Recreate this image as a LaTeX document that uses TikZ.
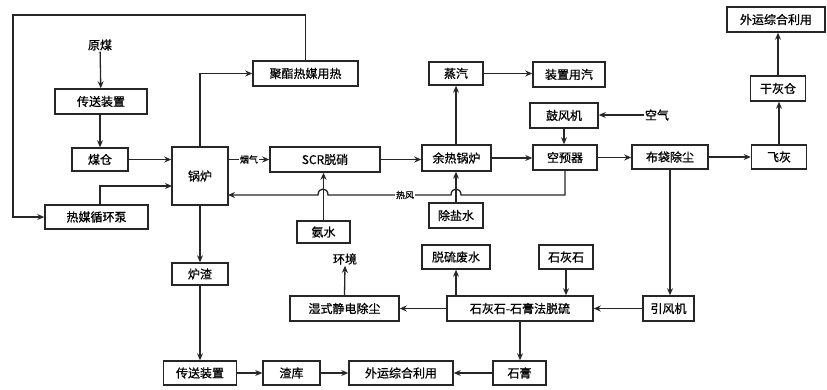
\documentclass[tikz,border=0pt]{standalone}
\usepackage{fontspec}
\newfontfamily\cjk[FakeBold=0.8]{Noto Sans CJK SC}
\usetikzlibrary{arrows.meta,calc}
\begin{document}
\begin{tikzpicture}[x=1pt,y=-1pt,
  font=\cjk\fontsize{12}{12}\selectfont,
  box/.style={draw=black!85,line width=1.5pt,inner sep=0pt,align=center},
  lbl/.style={inner sep=1pt},
  conn/.style={draw=black!85,line width=1.3pt},
  arr/.style={conn,-{Stealth[length=7pt,width=6pt]}},
  onl/.style={fill=white,inner sep=1pt,font=\cjk\fontsize{9}{9}\selectfont}]
\useasboundingbox (0,0) rectangle (827,389);
% nodes
\node[lbl] (ym) at (100,45) {原煤};
\node[box,minimum width=92,minimum height=25] (cs1) at (101,101.5) {传送装置};
\node[box,minimum width=56,minimum height=23] (mc) at (100,159.5) {煤仓};
\node[box,minimum width=56,minimum height=58] (gl) at (200,176) {锅炉};
\node[box,minimum width=103,minimum height=24] (rm) at (96.5,217) {热媒循环泵};
\node[box,minimum width=56,minimum height=22] (lz) at (200,274) {炉渣};
\node[box,minimum width=73,minimum height=24] (cs2) at (200,373) {传送装置};
\node[box,minimum width=57,minimum height=24] (zk) at (291.5,373) {渣库};
\node[box,minimum width=104,minimum height=24] (wy1) at (401,373) {外运综合利用};
\node[box,minimum width=53,minimum height=24] (sg) at (519.5,373) {石膏};
\node[box,minimum width=109,minimum height=25] (sd) at (344.5,308.5) {湿式静电除尘};
\node[lbl] (hj) at (345,259) {环境};
\node[box,minimum width=53,minimum height=22] (aw) at (323.5,232) {氨水};
\node[box,minimum width=110,minimum height=25] (scr) at (325,159.5) {SCR脱硝};
\node[box,minimum width=69,minimum height=26] (yr) at (456.5,158) {余热锅炉};
\node[box,minimum width=54,minimum height=23] (zq) at (456,73.5) {蒸汽};
\node[box,minimum width=72,minimum height=25] (zy) at (569,74.5) {装置用汽};
\node[box,minimum width=68,minimum height=25] (gf) at (564,115.5) {鼓风机};
\node[lbl] (kq) at (657,115) {空气};
\node[box,minimum width=64,minimum height=25] (ky) at (565,157.5) {空预器};
\node[box,minimum width=76,minimum height=24] (bd) at (670,157) {布袋除尘};
\node[box,minimum width=55,minimum height=24] (fh) at (779,157) {飞灰};
\node[box,minimum width=55,minimum height=25] (gh) at (778,88.5) {干灰仓};
\node[box,minimum width=98,minimum height=25] (wy2) at (776,19.5) {外运综合利用};
\node[box,minimum width=51,minimum height=25] (yf) at (668.5,308.5) {引风机};
\node[box,minimum width=146,minimum height=25] (tl) at (520,308.5) {石灰石-石膏法脱硫};
\node[box,minimum width=54,minimum height=24] (sh) at (566,257) {石灰石};
\node[box,minimum width=68,minimum height=24] (fs) at (456,257) {脱硫废水};
\node[box,minimum width=54,minimum height=25] (cy) at (456,215.5) {除盐水};
\node[box,minimum width=105,minimum height=25] (jz) at (305.5,73.5) {聚酯热媒用热};
% helper coordinates
\coordinate (rmtop) at (100,205);
\coordinate (glin) at (172,186);
\coordinate (loopc) at (13,15);
\coordinate (hwend) at (228,195);
% connectors
\draw[arr] (ym) -- (cs1);
\draw[arr] (cs1.south -| mc.north) -- (mc.north);
\draw[arr] (mc.east) -- (mc.east -| gl.west);
\draw[arr] (rmtop) |- (glin);
\draw[arr] (jz.north) |- (loopc) |- (rm.west);
\draw[arr] (gl.north) |- (jz.west);
\draw[arr] (scr.west -| gl.east) -- node[onl]{烟气} (scr.west);
\draw[arr] (gl.south) -- (lz.north);
\draw[arr] (lz.south) -- (lz.south |- cs2.north);
\draw[arr] (cs2.east) -- (zk.west);
\draw[arr] (zk.east) -- (wy1.west);
\draw[arr] (sg.west) -- (wy1.east);
\draw[arr] (scr.east) -- (scr.east -| yr.west);
\draw[arr] (zq.south |- yr.north) -- (zq.south);
\draw[arr] (zq.east) -- (zq.east -| zy.west);
\draw[arr] (yr.east) -- (yr.east -| ky.west);
\draw[arr] (gf.south) -- (gf.south |- ky.north);
\draw[arr] (kq.west) -- (kq.west -| gf.east);
\draw[arr] (ky.east) -- (ky.east -| bd.west);
\draw[arr] (bd.east) -- (fh.west);
\draw[arr] (fh.north) -- (fh.north |- gh.south);
\draw[arr] (gh.north) -- (gh.north |- wy2.south);
\draw[arr] (bd.south) -- (bd.south |- yf.north);
\draw[arr] (yf.west) -- (tl.east);
\draw[arr] (sh.south) -- (sh.south |- tl.north);
\draw[arr] (fs.south |- tl.north) -- (fs.south);
\draw[arr] (tl.west) -- (sd.east);
\draw[arr] (sd.north) -- (hj.south);
\draw[arr] (tl.south) -- (tl.south |- sg.north);
\draw[arr] (aw.north) -- (aw.north |- scr.south);
\draw[arr] (cy.north) -- (cy.north |- yr.south);
% hot air return with hops
\draw[arr] (ky.south) |- (461,195) .. controls (461,187) and (451,187) .. (451,195)
  -- (328,195) .. controls (328,187) and (318,187) .. (318,195) -- (hwend);
\node[onl] (rf) at (405,195) {热风};
\end{tikzpicture}
\end{document}
